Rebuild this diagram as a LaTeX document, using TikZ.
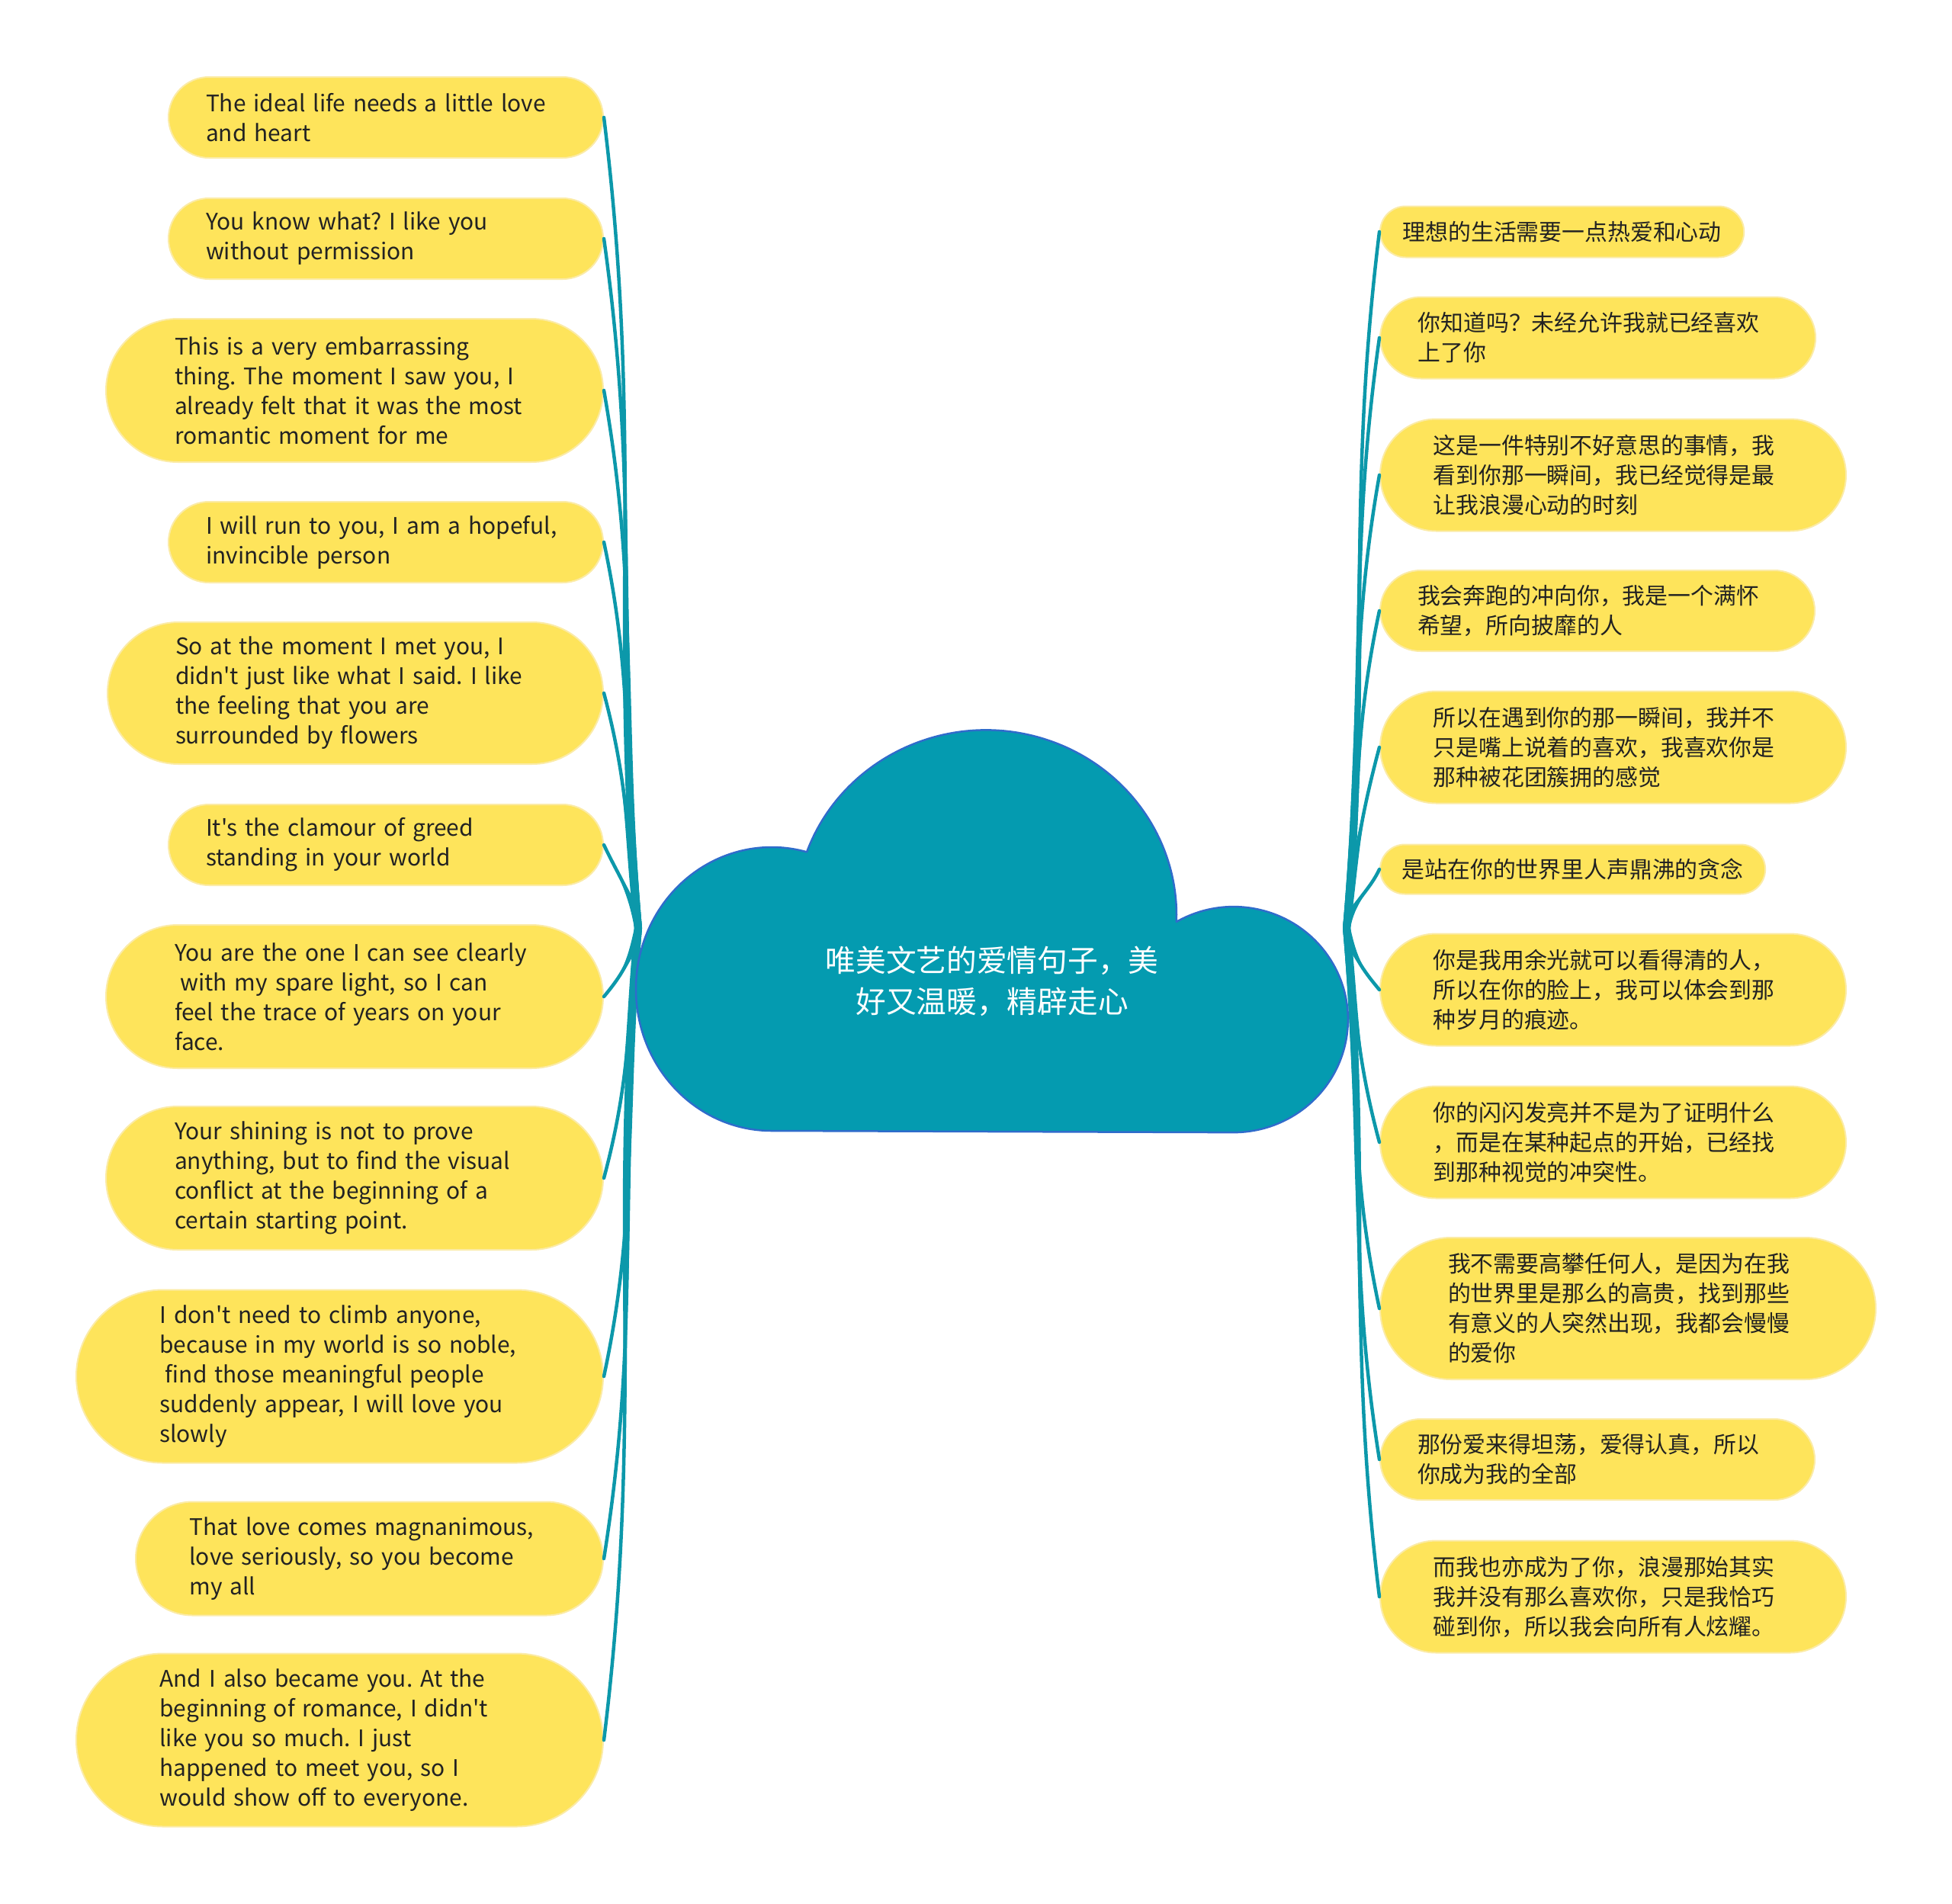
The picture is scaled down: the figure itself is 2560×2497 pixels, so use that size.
\documentclass[tikz,border=0pt]{standalone}
\usepackage{fontspec}
\setmainfont{Noto Sans CJK SC}[Ligatures=TeXOff]
\definecolor{leafyellow}{HTML}{FEE45B}
\definecolor{leafedge}{HTML}{FBEBA6}
\definecolor{leaftext}{HTML}{222222}
\definecolor{branchteal}{HTML}{0C98AA}
\definecolor{cloudfill}{HTML}{049BB0}
\definecolor{cloudedge}{HTML}{2F6CCB}

\begin{document}
\begin{tikzpicture}[
  x=0.1mm,
  y=0.1mm,
  line join=round,
  line cap=round,
  leaf/.style={draw=leafedge,line width=0.2mm,fill=leafyellow,text=leaftext,
    font=\fontsize{8.5pt}{11.1pt}\selectfont\frenchspacing,align=left,
    inner xsep={#1-0.4mm},inner ysep=0.5mm,minimum height=2*#1,rounded corners=#1},
  wrap/.style={text width=47.2mm},
  branch/.style={draw=branchteal,line width=0.45mm},
  branchfill/.style={fill=branchteal},
  cloud/.style={fill=cloudfill,draw=cloudedge,line width=0.25mm},
  title/.style={text=white,font=\fontsize{11.3pt}{15.3pt}\selectfont,align=center}
]
  \useasboundingbox (0,0) rectangle (2560,-2497);

  % Where the branches meet the cloud on each side.
  \coordinate (hubL) at (837,-1217);
  \coordinate (hubR) at (1766,-1217);

  % English sentences on the left, right ends on one line.
  \node[leaf=5.3mm,wrap,anchor=east] (l1) at (792,-154) {The ideal life needs a little love\\and heart};
  \node[leaf=5.3mm,wrap,anchor=east] (l2) at (792,-313) {You know what? I like you\\without permission};
  \node[leaf=9.4mm,wrap,anchor=east] (l3) at (792,-512) {This is a very embarrassing\\thing. The moment I saw you, I\\already felt that it was the most\\romantic moment for me};
  \node[leaf=5.3mm,wrap,anchor=east] (l4) at (792,-711) {I will run to you, I am a hopeful,\\invincible person};
  \node[leaf=9.3mm,wrap,anchor=east] (l5) at (792,-909) {So at the moment I met you, I\\didn't just like what I said. I like\\the feeling that you are\\surrounded by flowers};
  \node[leaf=5.3mm,wrap,anchor=east] (l6) at (792,-1108) {It's the clamour of greed\\standing in your world};
  \node[leaf=9.4mm,wrap,anchor=east] (l7) at (792,-1307) {You are the one I can see clearly\\\hspace*{0.25em}with my spare light, so I can\\feel the trace of years on your\\face.};
  \node[leaf=9.4mm,wrap,anchor=east] (l8) at (792,-1545) {Your shining is not to prove\\anything, but to find the visual\\conflict at the beginning of a\\certain starting point.};
  \node[leaf=11.35mm,wrap,anchor=east] (l9) at (792,-1805) {I don't need to climb anyone,\\because in my world is so noble,\\\hspace*{0.25em}find those meaningful people\\suddenly appear, I will love you\\slowly};
  \node[leaf=7.45mm,wrap,anchor=east] (l10) at (792,-2044) {That love comes magnanimous,\\love seriously, so you become\\my all};
  \node[leaf=11.35mm,wrap,anchor=east] (l11) at (792,-2282) {And I also became you. At the\\beginning of romance, I didn't\\like you so much. I just\\happened to meet you, so I\\would show off to everyone.};

  % Chinese sentences on the right, left ends on one line.
  \node[leaf=3.35mm,anchor=west] (r1) at (1809,-304) {理想的生活需要一点热爱和心动};
  \node[leaf=5.35mm,wrap,anchor=west] (r2) at (1809,-443) {你知道吗？未经允许我就已经喜欢\\上了你};
  \node[leaf=7.35mm,wrap,anchor=west] (r3) at (1809,-623) {这是一件特别不好意思的事情，我\\看到你那一瞬间，我已经觉得是最\\让我浪漫心动的时刻};
  \node[leaf=5.3mm,wrap,anchor=west] (r4) at (1809,-801) {我会奔跑的冲向你，我是一个满怀\\希望，所向披靡的人};
  \node[leaf=7.35mm,wrap,anchor=west] (r5) at (1809,-980) {所以在遇到你的那一瞬间，我并不\\只是嘴上说着的喜欢，我喜欢你是\\那种被花团簇拥的感觉};
  \node[leaf=3.25mm,anchor=west] (r6) at (1809,-1140) {是站在你的世界里人声鼎沸的贪念};
  \node[leaf=7.35mm,wrap,anchor=west] (r7) at (1809,-1298) {你是我用余光就可以看得清的人，\\所以在你的脸上，我可以体会到那\\种岁月的痕迹。};
  \node[leaf=7.35mm,wrap,anchor=west] (r8) at (1809,-1498) {你的闪闪发亮并不是为了证明什么\\，而是在某种起点的开始，已经找\\到那种视觉的冲突性。};
  \node[leaf=9.3mm,wrap,anchor=west] (r9) at (1809,-1716) {我不需要高攀任何人，是因为在我\\的世界里是那么的高贵，找到那些\\有意义的人突然出现，我都会慢慢\\的爱你};
  \node[leaf=5.3mm,wrap,anchor=west] (r10) at (1809,-1914) {那份爱来得坦荡，爱得认真，所以\\你成为我的全部};
  \node[leaf=7.35mm,wrap,anchor=west] (r11) at (1809,-2094) {而我也亦成为了你，浪漫那始其实\\我并没有那么喜欢你，只是我恰巧\\碰到你，所以我会向所有人炫耀。};

  % Tapered branches: thick at the hub, thin at the leaf.
  \foreach \n/\o/\i in {l1/95/-83,l2/95/-82,l3/95/-80,l4/96/-78,l5/97/-75,l6/100/-65,
                        l7/258/50,l8/264/75,l9/265/78,l10/265/81,l11/265/83} {
    \fill[branchfill] ([xshift=-0.5mm]hubL) to[out=\o,in=\i] (\n.east)
      to[out=\i,in=\o] ([xshift=0.5mm]hubL) -- cycle;
    \draw[branch] (hubL) to[out=\o,in=\i] (\n.east);
  }
  \foreach \n/\o/\i in {r1/85/-97,r2/85/-98,r3/85/-100,r4/84/-102,r5/83/-105,r6/80/-115,
                        r7/282/130,r8/276/105,r9/275/102,r10/275/99,r11/275/97} {
    \fill[branchfill] ([xshift=-0.5mm]hubR) to[out=\o,in=\i] (\n.west)
      to[out=\i,in=\o] ([xshift=0.5mm]hubR) -- cycle;
    \draw[branch] (hubR) to[out=\o,in=\i] (\n.west);
  }

  % Central cloud: left lobe, big lobe, right lobe, flat bottom.
  \draw[cloud] (1012,-1483)
    arc[start angle=270,end angle=75,x radius=178,y radius=186]
    arc[start angle=160,end angle=-2,x radius=250,y radius=243]
    arc[start angle=120,end angle=-90,x radius=150,y radius=148] -- cycle;
  \node[title] (root) at (1301,-1287) {唯美文艺的爱情句子，美\\好又温暖，精辟走心};
\end{tikzpicture}
\end{document}
